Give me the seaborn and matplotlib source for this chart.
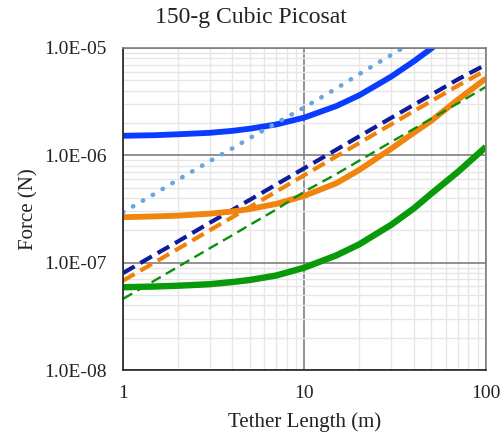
import matplotlib
matplotlib.use("Agg")
import matplotlib.pyplot as plt
from matplotlib.ticker import LogLocator, FixedLocator, NullFormatter, FuncFormatter
import seaborn as sns
import pandas as pd

# Tether length samples (m)
tether_length = [1, 1.5, 2, 3, 4, 5, 7, 10, 15, 20, 30, 40, 50, 70, 100]

# Force curves (N)
blue_solid = [1.52e-6, 1.54e-6, 1.57e-6, 1.62e-6, 1.69e-6, 1.77e-6, 1.94e-6, 2.25e-6,
              2.88e-6, 3.62e-6, 5.4e-6, 7.5e-6, 9.9e-6, 1.55e-5, 2.5e-5]
lightblue_dotted = [2.95e-7, 4.4e-7, 5.9e-7, 8.8e-7, 1.16e-6, 1.45e-6, 2.0e-6, 2.8e-6,
                    4.2e-6, 5.7e-6, 8.6e-6, 1.15e-5, 1.45e-5, 2.0e-5, 2.9e-5]
navy_dashed = [8.0e-8, 1.19e-7, 1.57e-7, 2.35e-7, 3.1e-7, 3.85e-7, 5.35e-7, 7.6e-7,
               1.13e-6, 1.5e-6, 2.23e-6, 2.95e-6, 3.67e-6, 5.1e-6, 7.0e-6]
orange_dashed = [6.8e-8, 1.01e-7, 1.34e-7, 2.0e-7, 2.65e-7, 3.3e-7, 4.6e-7, 6.55e-7,
                 9.8e-7, 1.3e-6, 1.94e-6, 2.58e-6, 3.2e-6, 4.45e-6, 6.2e-6]
orange_solid = [2.65e-7, 2.7e-7, 2.74e-7, 2.86e-7, 3.0e-7, 3.16e-7, 3.53e-7, 4.2e-7,
                5.5e-7, 7.3e-7, 1.15e-6, 1.62e-6, 2.1e-6, 3.3e-6, 5.2e-6]
green_dashed = [4.6e-8, 6.85e-8, 9.1e-8, 1.36e-7, 1.8e-7, 2.25e-7, 3.13e-7, 4.6e-7,
                6.7e-7, 8.9e-7, 1.33e-6, 1.76e-6, 2.2e-6, 3.05e-6, 4.35e-6]
green_solid = [5.9e-8, 6.0e-8, 6.1e-8, 6.3e-8, 6.6e-8, 6.9e-8, 7.6e-8, 9.0e-8,
               1.17e-7, 1.48e-7, 2.25e-7, 3.2e-7, 4.4e-7, 7.0e-7, 1.2e-6]

x_ticks = [1, 10, 100]
y_ticks = [1e-8, 1e-7, 1e-6, 1e-5]

sns.set_style("white")
plt.rcParams["font.family"] = ["Liberation Serif", "DejaVu Serif"]

fig = plt.figure(figsize=(5.01, 4.40), dpi=100)
ax = fig.add_axes([0.2455, 0.159, 0.7245, 0.732])

# (values, colour, linestyle, linewidth, dash pattern)
styles = [
    (blue_solid, "#0a3cff", "-", 4.2, None),
    (lightblue_dotted, "#6aa5e0", ":", 3.3, (0.1, 2.4)),
    (navy_dashed, "#0e1c99", "--", 3.0, (3.2, 1.6)),
    (orange_dashed, "#f0820a", "--", 3.0, (3.2, 1.6)),
    (orange_solid, "#f0840c", "-", 4.2, None),
    (green_dashed, "#0a8f0a", "--", 1.7, (4.5, 2.5)),
    (green_solid, "#089a08", "-", 4.6, None),
]

for values, color, ls, lw, dashes in styles:
    df = pd.DataFrame({"Tether Length (m)": tether_length, "Force (N)": values})
    sns.lineplot(data=df, x="Tether Length (m)", y="Force (N)", ax=ax,
                 color=color, linewidth=lw, linestyle=ls)
    ln = ax.lines[-1]
    ln.set_solid_capstyle("butt")
    if dashes is not None:
        ln.set_dashes(dashes)
    if ls == ":":
        ln.set_dash_capstyle("round")

ax.set_xscale("log")
ax.set_yscale("log")
ax.set_xlim(1, 100)
ax.set_ylim(1e-8, 1e-5)

ax.xaxis.set_major_locator(FixedLocator(x_ticks))
ax.yaxis.set_major_locator(FixedLocator(y_ticks))
ax.xaxis.set_minor_locator(LogLocator(base=10, subs=range(2, 10)))
ax.yaxis.set_minor_locator(LogLocator(base=10, subs=range(2, 10)))
ax.xaxis.set_minor_formatter(NullFormatter())
ax.yaxis.set_minor_formatter(NullFormatter())
ax.xaxis.set_major_formatter(FuncFormatter(lambda v, p: f"{v:g}"))
ax.yaxis.set_major_formatter(FuncFormatter(lambda v, p: f"{v:.1E}"))

ax.grid(which="minor", color="#e6e6e6", linewidth=1.0)
ax.grid(which="major", color="#7f7f7f", linewidth=1.2)
ax.set_axisbelow(True)
ax.tick_params(which="both", length=0, labelsize=14, colors="#222222")
ax.tick_params(axis="y", pad=12)
ax.tick_params(axis="x", pad=11)

for side in ["top", "right"]:
    ax.spines[side].set_color("#7f7f7f")
    ax.spines[side].set_linewidth(1.2)
for side in ["left", "bottom"]:
    ax.spines[side].set_color("#222222")
    ax.spines[side].set_linewidth(1.2)

ax.set_xlabel("Tether Length (m)", fontsize=15, color="#222222", labelpad=7)
ax.set_ylabel("Force (N)", fontsize=15, color="#222222", labelpad=4)
fig.text(0.5, 1 - 18 / 440, "150-g Cubic Picosat", fontsize=17, color="#222222",
         ha="center", va="center")

fig.savefig("out.png", dpi=100)
